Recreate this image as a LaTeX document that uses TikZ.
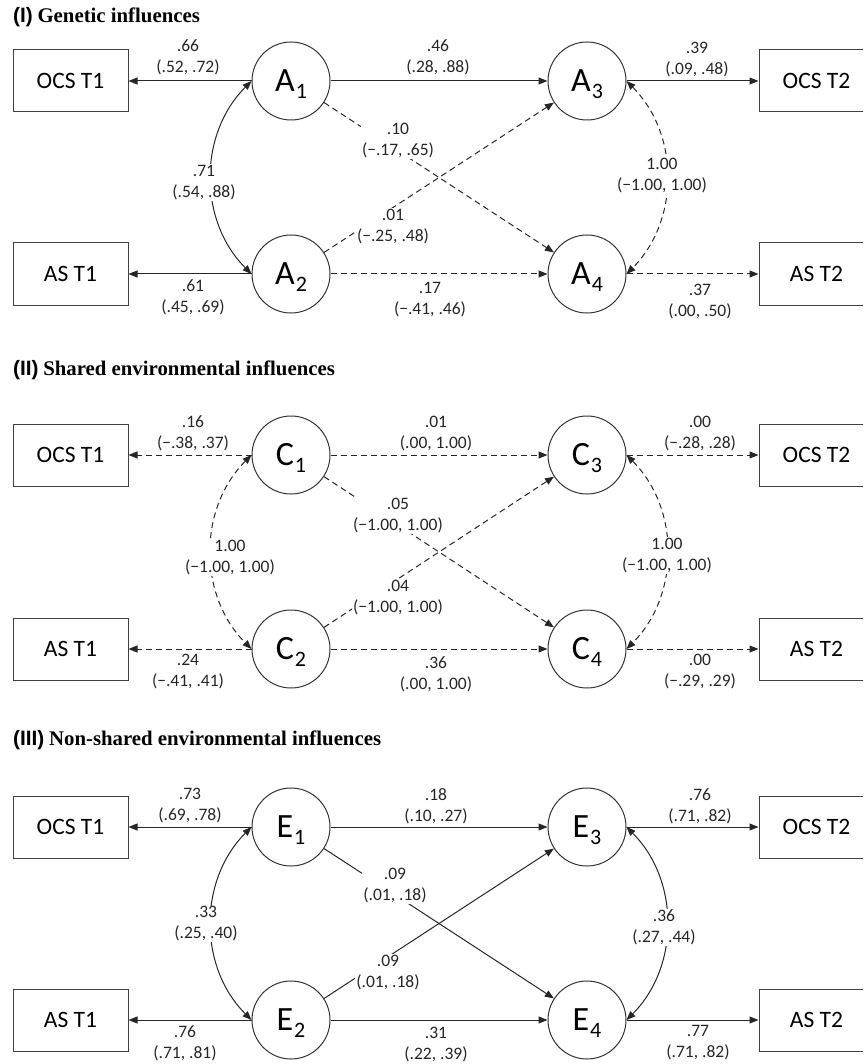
\documentclass[tikz,border=0pt]{standalone}
\usepackage{fontspec}
\setmainfont{Carlito}
\newfontfamily\titleserif{Liberation Serif}
\newfontfamily\titlesans{Liberation Sans}
\usetikzlibrary{arrows.meta}
\newcommand\lv[2]{#1\kern1pt\smash{\raisebox{-7pt}{\fontsize{22}{22}\selectfont #2}}}
\newcommand\ttltext[2]{{\titlesans\bfseries #1} {\titleserif\bfseries #2}}
\tikzset{
  ln/.style={line width=1pt, draw=black!85},
  arr/.style={ln, -{Triangle[length=9pt,width=7pt]}},
  darr/.style={arr, dash pattern=on 6pt off 4pt},
  dbl/.style={ln, {Triangle[length=9pt,width=7pt]}-{Triangle[length=9pt,width=7pt]}},
  ddbl/.style={dbl, dash pattern=on 6pt off 4pt},
  obs/.style={draw=black!75, line width=1pt, minimum width=115pt, minimum height=62pt, inner sep=0pt, font=\fontsize{23.5}{27}\selectfont},
  lat/.style={circle, draw=black!80, line width=1pt, minimum size=78pt, inner sep=0pt, font=\fontsize{34}{40}\selectfont},
  lab/.style={align=center, font=\fontsize{17.5}{21}\selectfont, inner sep=1pt, text=black!85},
  labw/.style={lab, fill=white},
  ttl/.style={anchor=west, inner sep=0pt, font=\fontsize{20.8}{24}\selectfont},
}
\begin{document}
\begin{tikzpicture}[x=1pt,y=-1pt]
\useasboundingbox (0,0) rectangle (863,1064);
\clip (0,0) rectangle (863,1064);

% ---------------- Panel I ----------------
\node[ttl] (t1) at (13,17) {\ttltext{(I)}{Genetic influences}};
\node[obs] (o1a) at (70.5,81) {OCS T1};
\node[lat] (A1) at (291,81) {\lv{A}{1}};
\node[lat] (A3) at (587,81) {\lv{A}{3}};
\node[obs] (o2a) at (816.5,81) {OCS T2};
\node[obs] (s1a) at (70.5,274) {AS T1};
\node[lat] (A2) at (291,274) {\lv{A}{2}};
\node[lat] (A4) at (587,274) {\lv{A}{4}};
\node[obs] (s2a) at (816.5,274) {AS T2};

\draw[arr] (A1) -- (o1a);
\draw[arr] (A2) -- (s1a);
\draw[arr] (A1) -- (A3);
\draw[darr] (A1) -- (A4);
\draw[darr] (A2) -- (A3);
\draw[darr] (A2) -- (A4);
\draw[arr] (A3) -- (o2a);
\draw[darr] (A4) -- (s2a);
\draw[dbl] (A1.west) to[bend right=45] (A2.west);
\draw[ddbl] (A3.east) to[bend left=45] (A4.east);

\node[lab] (la1) at (188,57.5) {.66\\(.52, .72)};
\node[lab] (la2) at (438,57.5) {.46\\(.28, .88)};
\node[lab] (la3) at (697,59.5) {.39\\(.09, .48)};
\node[labw] (la4) at (398,140.5) {.10\\(−.17, .65)};
\node[labw] (la5) at (204,182.5) {.71\\(.54, .88)};
\node[labw] (la6) at (662,175.5) {1.00\\(−1.00, 1.00)};
\node[labw] (la7) at (393,226.5) {.01\\(−.25, .48)};
\node[lab] (la8) at (193,297.5) {.61\\(.45, .69)};
\node[lab] (la9) at (430,299.5) {.17\\(−.41, .46)};
\node[lab] (la10) at (700,301.5) {.37\\(.00, .50)};

% ---------------- Panel II ----------------
\node[ttl] (t2) at (13,370) {\ttltext{(II)}{Shared environmental influences}};
\node[obs] (o1c) at (70.5,455) {OCS T1};
\node[lat] (C1) at (291,455) {\lv{C}{1}};
\node[lat] (C3) at (587,455) {\lv{C}{3}};
\node[obs] (o2c) at (816.5,455) {OCS T2};
\node[obs] (s1c) at (70.5,649) {AS T1};
\node[lat] (C2) at (291,649) {\lv{C}{2}};
\node[lat] (C4) at (587,649) {\lv{C}{4}};
\node[obs] (s2c) at (816.5,649) {AS T2};

\draw[darr] (C1) -- (o1c);
\draw[darr] (C2) -- (s1c);
\draw[darr] (C1) -- (C3);
\draw[darr] (C1) -- (C4);
\draw[darr] (C2) -- (C3);
\draw[darr] (C2) -- (C4);
\draw[darr] (C3) -- (o2c);
\draw[darr] (C4) -- (s2c);
\draw[ddbl] (C1.west) to[bend right=45] (C2.west);
\draw[ddbl] (C3.east) to[bend left=45] (C4.east);

\node[lab] (lc1) at (193,433.5) {.16\\(−.38, .37)};
\node[lab] (lc2) at (436,433.5) {.01\\(.00, 1.00)};
\node[lab] (lc3) at (700,433.5) {.00\\(−.28, .28)};
\node[labw] (lc4) at (398,515.5) {.05\\(−1.00, 1.00)};
\node[labw] (lc5) at (230,557.5) {1.00\\(−1.00, 1.00)};
\node[labw] (lc6) at (667,555.5) {1.00\\(−1.00, 1.00)};
\node[labw] (lc7) at (398,598) {.04\\(−1.00, 1.00)};
\node[lab] (lc8) at (188,672) {.24\\(−.41, .41)};
\node[lab] (lc9) at (436,674.5) {.36\\(.00, 1.00)};
\node[lab] (lc10) at (700,672) {.00\\(−.29, .29)};

% ---------------- Panel III ----------------
\node[ttl] (t3) at (13,740) {\ttltext{(III)}{Non-shared environmental influences}};
\node[obs] (o1e) at (70.5,827) {OCS T1};
\node[lat] (E1) at (291,827) {\lv{E}{1}};
\node[lat] (E3) at (587,827) {\lv{E}{3}};
\node[obs] (o2e) at (816.5,827) {OCS T2};
\node[obs] (s1e) at (70.5,1020) {AS T1};
\node[lat] (E2) at (291,1020) {\lv{E}{2}};
\node[lat] (E4) at (587,1020) {\lv{E}{4}};
\node[obs] (s2e) at (816.5,1020) {AS T2};

\draw[arr] (E1) -- (o1e);
\draw[arr] (E2) -- (s1e);
\draw[arr] (E1) -- (E3);
\draw[arr] (E1) -- (E4);
\draw[arr] (E2) -- (E3);
\draw[arr] (E2) -- (E4);
\draw[arr] (E3) -- (o2e);
\draw[arr] (E4) -- (s2e);
\draw[dbl] (E1.west) to[bend right=45] (E2.west);
\draw[dbl] (E3.east) to[bend left=45] (E4.east);

\node[lab] (le1) at (190,805.5) {.73\\(.69, .78)};
\node[lab] (le2) at (436,806.5) {.18\\(.10, .27)};
\node[lab] (le3) at (700,806.5) {.76\\(.71, .82)};
\node[labw] (le4) at (395,886) {.09\\(.01, .18)};
\node[labw] (le5) at (206,924) {.33\\(.25, .40)};
\node[labw] (le6) at (664,927.5) {.36\\(.27, .44)};
\node[labw] (le7) at (388,972.5) {.09\\(.01, .18)};
\node[lab] (le8) at (185,1043) {.76\\(.71, .81)};
\node[lab] (le9) at (436,1044.5) {.31\\(.22, .39)};
\node[lab] (le10) at (698,1042.5) {.77\\(.71, .82)};
\end{tikzpicture}
\end{document}
